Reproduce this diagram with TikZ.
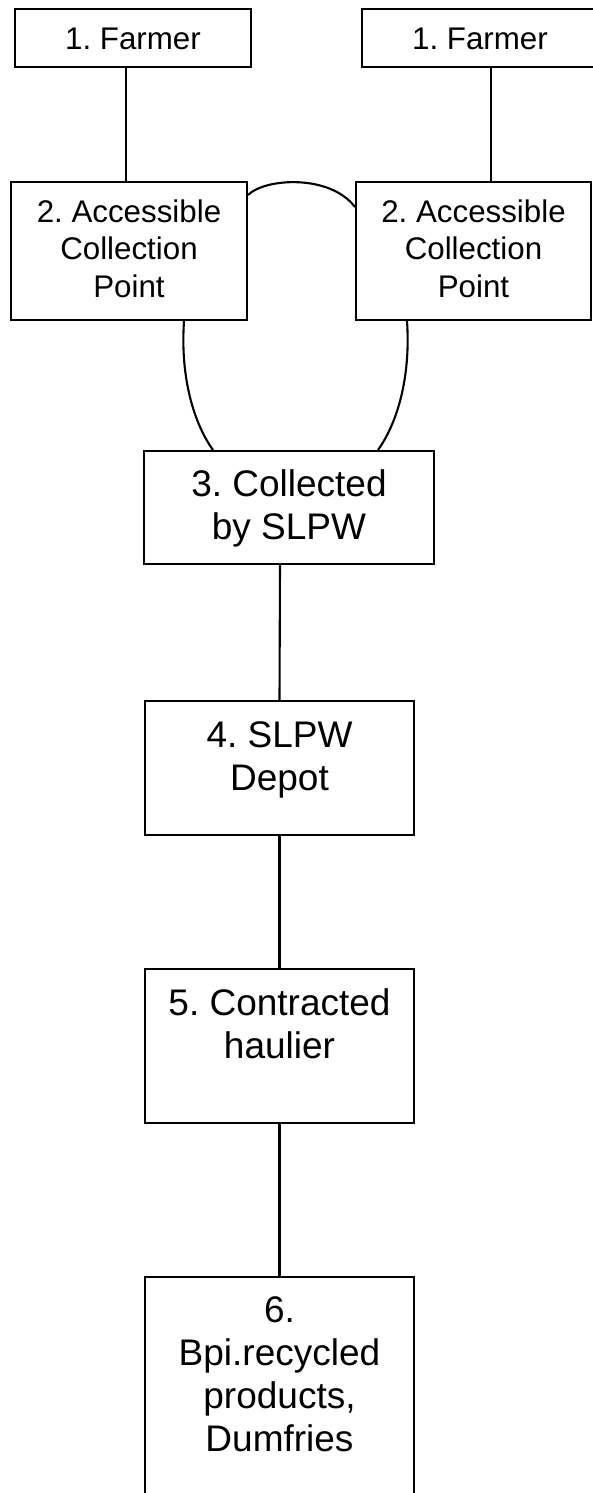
\documentclass[tikz,border=0pt]{standalone}
\usepackage{fontspec}
\setmainfont{Liberation Sans}
\usetikzlibrary{positioning}
\frenchspacing

\begin{document}
\begin{tikzpicture}[x=1pt, y=-1pt, line width=2.1pt]

    % Стили
    \tikzset{
        box/.style={draw, rectangle, inner sep=0pt},
        smalltext/.style={align=center, inner sep=0pt, font=\fontsize{31.3}{37.3}\selectfont},
        bigtext/.style={align=center, inner sep=0pt, font=\fontsize{37}{43}\selectfont},
    }

    \useasboundingbox (0,0) rectangle (592,1493);

    % Фермеры
    \node[box, minimum width=236pt, minimum height=58pt] (farmerL) at (133,38) {};
    \node[box, minimum width=236pt, minimum height=58pt] (farmerR) at (480,38) {};
    \node[smalltext, below=19pt of farmerL.north] (farmerLt) {1. Farmer};
    \node[smalltext, below=19pt of farmerR.north] (farmerRt) {1. Farmer};

    % Пункты сбора
    \node[box, minimum width=236pt, minimum height=138pt] (accessL) at (129,251) {};
    \node[box, minimum width=235pt, minimum height=138pt] (accessR) at (473.5,251) {};
    \node[smalltext, below=18pt of accessL.north] (accessLt) {2. Accessible\\Collection\\Point};
    \node[smalltext, below=18pt of accessR.north] (accessRt) {2. Accessible\\Collection\\Point};

    % Цепочка вниз
    \node[box, minimum width=290pt, minimum height=113pt] (collect) at (289,507.5) {};
    \node[box, minimum width=269pt, minimum height=134pt] (depot) at (279.5,768) {};
    \node[box, minimum width=269pt, minimum height=154pt] (haulier) at (279.5,1046) {};
    \node[box, minimum width=269pt, minimum height=233pt] (bpi) at (279.5,1393.5) {};
    \node[bigtext, below=19pt of collect.north] (collectt) {3. Collected\\by SLPW};
    \node[bigtext, below=21pt of depot.north] (depott) {4. SLPW\\Depot};
    \node[bigtext, below=20pt of haulier.north] (hauliert) {5. Contracted\\haulier};
    \node[bigtext, below=20pt of bpi.north] (bpit) {6.\\Bpi.recycled\\products,\\Dumfries};

    % Связи
    \draw ([xshift=-7pt]farmerL.south) -- ([xshift=-3pt]accessL.north);
    \draw ([xshift=11pt]farmerR.south) -- ([xshift=17.5pt]accessR.north);
    \draw ([yshift=56pt]accessL.east) .. controls (265,178) and (330,174) .. ([yshift=44pt]accessR.west);
    \draw ([xshift=55pt]accessL.south) .. controls (180,380) and (195,425) .. ([xshift=-76pt]collect.north);
    \draw ([xshift=-66.5pt]accessR.south) .. controls (411,380) and (396,425) .. ([xshift=89pt]collect.north);
    \draw ([xshift=-9pt]collect.south) -- (depot.north);
    \draw (depot.south) -- (haulier.north);
    \draw (haulier.south) -- (bpi.north);
\end{tikzpicture}
\end{document}
